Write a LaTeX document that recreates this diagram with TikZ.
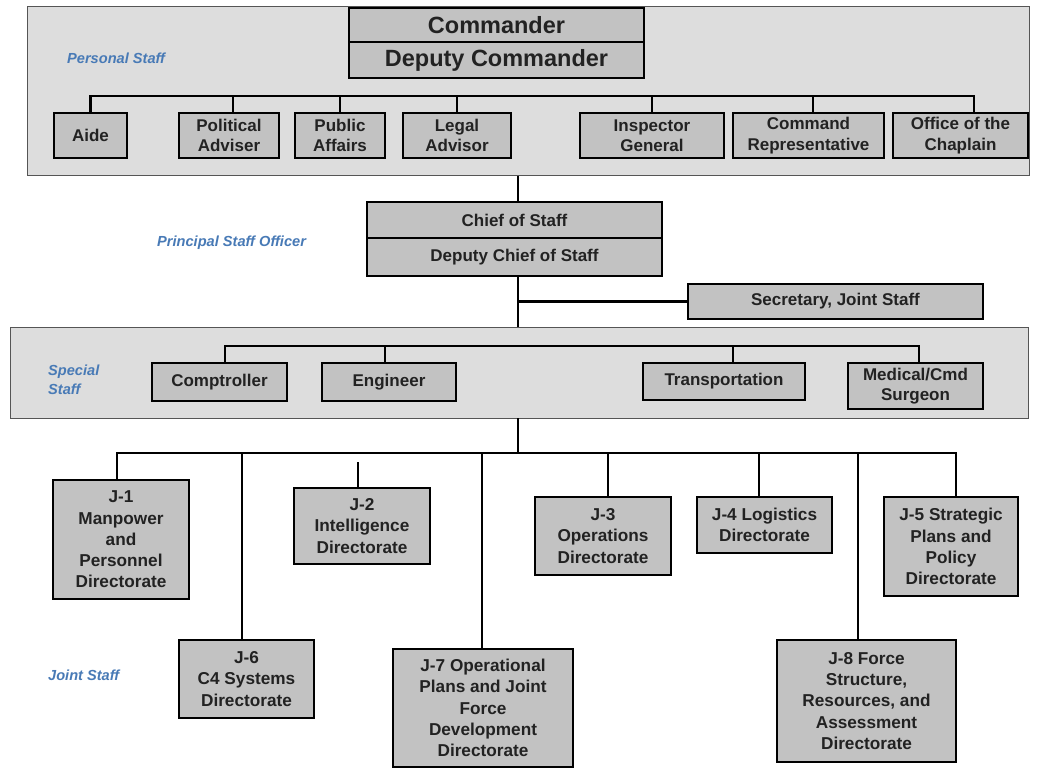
\documentclass[tikz,border=0pt]{standalone}
\usepackage{fontspec}
\setmainfont{Liberation Sans}
\definecolor{boxgray}{RGB}{194,194,194}
\definecolor{panelgray}{RGB}{221,221,221}
\definecolor{panelline}{RGB}{85,85,85}
\definecolor{labelblue}{RGB}{72,122,182}
\definecolor{ink}{RGB}{34,34,34}
\tikzset{
  box/.style={draw=black, line width=2.4pt, fill=boxgray, inner sep=0pt, outer sep=0pt,
    align=center, anchor=north west, text=ink,
    font=\bfseries\fontsize{17}{20.5}\selectfont},
  bigbox/.style={box, font=\bfseries\fontsize{23.5}{26}\selectfont},
  jbox/.style={box, font=\bfseries\fontsize{17.2}{21.2}\selectfont},
  panel/.style={draw=panelline, line width=1pt, fill=panelgray, inner sep=0pt, outer sep=0pt, anchor=north west},
  link/.style={draw=black, line width=2.6pt, line join=miter},
  grouplabel/.style={text=labelblue, anchor=west, align=left, inner sep=0pt,
    font=\bfseries\itshape\fontsize{14.6}{19}\selectfont}
}
% box from (x1,y1) to (x2,y2), y measured downwards
\newcommand\orgbox[7][box]{\node[#1, minimum width=#5pt-#3pt, minimum height=#6pt-#4pt] (#2) at (#3,#4) {#7};}
\begin{document}
\begin{tikzpicture}[x=1pt,y=-1pt]
\useasboundingbox (0,0) rectangle (1039,770);
\fill[white] (0,0) rectangle (1039,770);

% group panels
\node[panel, minimum width=1002pt, minimum height=169pt] (pers) at (27,7) {};
\node[panel, minimum width=1018pt, minimum height=91pt] (spec) at (10,327) {};

% group labels
\node[grouplabel] (lpers) at (67,58) {Personal Staff};
\node[grouplabel] (lpso) at (157,243) {Principal Staff Officer};
\node[grouplabel, font=\bfseries\itshape\fontsize{14.6}{19}\selectfont] (lspec) at (48,379.5) {Special\\Staff};
\node[grouplabel] (ljoint) at (48,675) {Joint Staff};

% command group
\orgbox[bigbox]{cmd}{349}{8}{644}{42}{Commander}
\orgbox[bigbox]{dcmd}{349}{42}{644}{78}{Deputy Commander}

% personal staff
\orgbox{aide}{54}{113}{127}{158}{Aide}
\orgbox{polad}{179}{113}{279}{158}{Political\\Adviser}
\orgbox{pao}{295}{113}{385}{158}{Public\\Affairs}
\orgbox{legal}{403}{113}{511}{158}{Legal\\Advisor}
\orgbox{ig}{580}{113}{724}{158}{Inspector\\General}
\orgbox{crep}{733}{113}{884}{158}{Command\\Representative}
\orgbox{chap}{893}{113}{1028}{158}{Office of the\\Chaplain}

% principal staff officer
\orgbox{cos}{367}{202}{662}{238}{Chief of Staff}
\orgbox{dcos}{367}{238}{662}{276}{Deputy Chief of Staff}
\orgbox{sjs}{688}{284}{983}{319}{Secretary, Joint Staff}

% special staff
\orgbox{comp}{152}{363}{287}{401}{Comptroller}
\orgbox{eng}{322}{363}{456}{401}{Engineer}
\orgbox{trans}{643}{363}{805}{400}{Transportation}
\orgbox{med}{848}{363}{983}{409}{Medical/Cmd\\Surgeon}

% joint staff directorates
\orgbox[jbox]{j1}{53}{480}{189}{599}{J-1\\Manpower\\and\\Personnel\\Directorate}
\orgbox[jbox]{j2}{294}{488}{430}{564}{J-2\\Intelligence\\Directorate}
\orgbox[jbox]{j3}{535}{497}{671}{575}{J-3\\Operations\\Directorate}
\orgbox[jbox]{j4}{697}{497}{832}{553}{J-4 Logistics\\Directorate}
\orgbox[jbox]{j5}{884}{497}{1018}{596}{J-5 Strategic\\Plans and\\Policy\\Directorate}
\orgbox[jbox]{j6}{179}{640}{314}{718}{J-6\\C4 Systems\\Directorate}
\orgbox[jbox]{j7}{393}{649}{573}{767}{J-7 Operational\\Plans and Joint\\Force\\Development\\Directorate}
\orgbox[jbox]{j8}{777}{640}{956}{762}{J-8 Force\\Structure,\\Resources, and\\Assessment\\Directorate}

% bus lines and spine
\coordinate (spine) at (518,0);
\coordinate (pbus) at (518,96);
\coordinate (sbus) at (518,346);
\coordinate (jbus) at (518,453);

\draw[link] (aide.north) |- (pbus);
\draw[link] ([xshift=4pt]polad.north) |- (pbus);
\draw[link] (pao.north) |- (pbus);
\draw[link] (legal.north) |- (pbus);
\draw[link] (ig.north) |- (pbus);
\draw[link] ([xshift=4.5pt]crep.north) |- (pbus);
\draw[link] ([xshift=13.5pt]chap.north) |- (pbus);

\draw[link] (pers.south -| spine) -- (cos.north -| spine);
\draw[link] (dcos.south -| spine) -- (spec.north -| spine);
\draw[link] (sjs.west -| spine) -- (sjs.west);
\draw[link] (spec.south -| spine) -- (jbus);

\draw[link] ([xshift=5.5pt]comp.north) |- (sbus);
\draw[link] ([xshift=-4pt]eng.north) |- (sbus);
\draw[link] ([xshift=9pt]trans.north) |- (sbus);
\draw[link] ([xshift=3.5pt]med.north) |- (sbus);

\draw[link] ([xshift=-4pt]j1.north) |- (jbus);
\draw[link] ([xshift=-4.5pt]j6.north) |- (jbus);
\draw[link] ([xshift=-1pt]j7.north) |- (jbus);
\draw[link] ([xshift=5pt]j3.north) |- (jbus);
\draw[link] ([xshift=-5.5pt]j4.north) |- (jbus);
\draw[link] ([xshift=-8.5pt]j8.north) |- (jbus);
\draw[link] ([xshift=5pt]j5.north) |- (jbus);
\draw[link] ([xshift=-4pt]j2.north) -- ++(0,-26);
\end{tikzpicture}
\end{document}
